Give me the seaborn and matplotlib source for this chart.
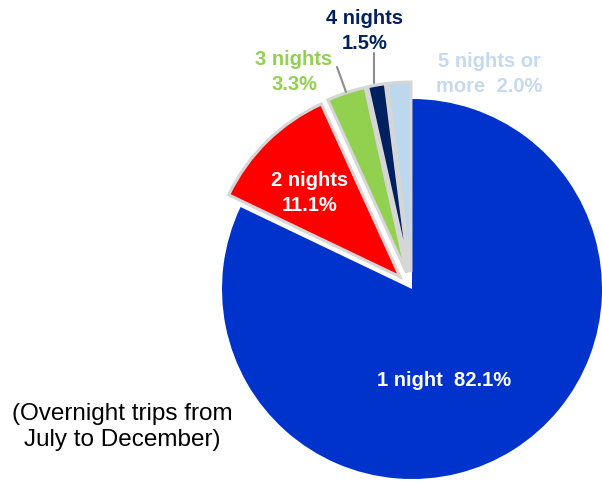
import matplotlib
matplotlib.use("Agg")
import matplotlib.pyplot as plt
import seaborn as sns

sns.set_theme(style="white")
plt.rcParams['font.family'] = ['Liberation Sans', 'DejaVu Sans']

categories = ["1 night", "2 nights", "3 nights", "4 nights", "5 nights or more"]
values = [82.1, 11.1, 3.3, 1.5, 2.0]
label_texts = ["1 night  82.1%", "2 nights\n11.1%", "3 nights\n3.3%", "4 nights\n1.5%", "5 nights or\nmore  2.0%"]
colors = ["#0033CC", "#FF0000", "#92D050", "#002060", "#BDD7EE"]
text_colors = ["white", "white", "#92D050", "#002060", "#C5DAF0"]
note = "(Overnight trips from\nJuly to December)"

W, H = 602, 483
fig = plt.figure(figsize=(W / 100, H / 100), dpi=100)
ax = fig.add_axes([0, 0, 1, 1])

cx, cy, R = 412, H - 289, 190
off = 17
explode = [0, off, off, off, off]
wedges, _ = ax.pie(values, colors=colors, startangle=90, counterclock=False,
                   explode=explode, center=(cx, cy), radius=R,
                   wedgeprops=dict(linewidth=0))
for i, w in enumerate(wedges):
    if i > 0:
        w.set_edgecolor("#d6d6d6")
        w.set_linewidth(2.2)
        w.set_zorder(3)
    else:
        w.set_zorder(2)

ax.set_xlim(0, W)
ax.set_ylim(0, H)
ax.set_aspect("equal")
ax.axis("off")

# label positions (pixels from top-left)
pos = [(444, 380), (310, 193), (294, 72), (365, 31), (489, 74)]
for t, c, (px, py) in zip(label_texts, text_colors, pos):
    ax.text(px, H - py, t, color=c, fontsize=14.5, fontweight="bold",
            ha="center", va="center", linespacing=1.4, zorder=5)

# leader lines
ax.plot([337, 346], [H - 67, H - 92], color="#8c8c8c", lw=1.5, zorder=4)
ax.plot([374, 374], [H - 53, H - 83], color="#8c8c8c", lw=1.5, zorder=4)

ax.text(122, H - 427, note, color="black", fontsize=17.5, ha="center",
        va="center", linespacing=1.25, zorder=5)

fig.savefig("out.png", dpi=100)
